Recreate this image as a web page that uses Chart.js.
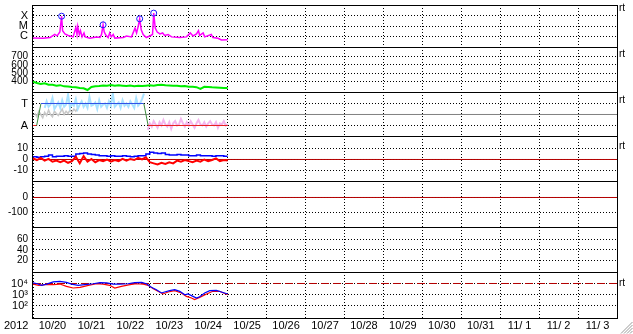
<!DOCTYPE html>
<html>
<head>
<meta charset="utf-8">
<script src="https://cdn.jsdelivr.net/npm/chart.js@4.4.0/dist/chart.umd.min.js"></script>
<style>
  body { margin: 0; background: #fff; }
  #wrap { position: relative; width: 633px; height: 334px; }
  #wrap canvas { position: absolute; left: 0; top: 0; }
</style>
</head>
<body>
<div id="wrap">
  <canvas id="p1" width="633" height="334"></canvas>
  <canvas id="p2" width="633" height="334"></canvas>
  <canvas id="p3" width="633" height="334"></canvas>
  <canvas id="p4" width="633" height="334"></canvas>
  <canvas id="p5" width="633" height="334"></canvas>
  <canvas id="p6" width="633" height="334"></canvas>
  <canvas id="p7" width="633" height="334"></canvas>
</div>
<script>
// x axis: days since 2012-10-20 00:00
const dayLabels = ['10/20', '10/21', '10/22', '10/23', '10/24', '10/25', '10/26', '10/27',
  '10/28', '10/29', '10/30', '10/31', '11/ 1', '11/ 2', '11/ 3'];
const yearLabel = '2012';
const sideLabel = 'rt';

// x-ray flux
const xrayDay = [0.00, 0.26, 0.44, 0.56, 0.62, 0.69, 0.735, 0.76, 0.82, 0.905,
  1.03, 1.10, 1.13, 1.15, 1.19, 1.22, 1.26, 1.31, 1.34, 1.46,
  1.63, 1.72, 1.76, 1.80, 1.83, 1.87, 1.93, 1.97, 2.01, 2.06,
  2.10, 2.32, 2.40, 2.53, 2.62, 2.66, 2.70, 2.74, 2.78, 2.83,
  2.91, 3.00, 3.07, 3.10, 3.14, 3.19, 3.26, 3.33, 3.38, 3.47,
  3.56, 3.77, 3.94, 4.04, 4.11, 4.20, 4.25, 4.28, 4.37, 4.41,
  4.58, 4.62, 4.75, 4.84, 5.00];
const xrayFlux = [6.6e-7, 6.3e-7, 7.6e-7, 1.5e-6, 1.1e-6, 2.6e-6, 9.0e-5, 3.5e-6, 1.7e-6, 1.2e-6,
  8.7e-7, 7.0e-6, 1.5e-6, 8.7e-6, 1.5e-6, 3.5e-6, 8.7e-7, 2.1e-6, 8.7e-7, 6.6e-7,
  8.7e-7, 7.6e-7, 1.5e-6, 1.3e-5, 2.6e-6, 1.3e-6, 7.6e-7, 2.1e-6, 8.7e-7, 1.5e-6,
  6.6e-7, 7.6e-7, 1.07e-6, 8.7e-7, 6.2e-6, 2.1e-6, 8.7e-6, 5.0e-5, 4.3e-6, 1.5e-6,
  7.6e-7, 1.07e-6, 1.5e-6, 1.8e-4, 6.2e-6, 2.6e-6, 1.7e-6, 2.1e-6, 1.2e-6, 1.5e-6,
  8.7e-7, 7.6e-7, 8.7e-7, 2.1e-6, 1.07e-6, 1.7e-6, 3.5e-6, 1.2e-6, 2.1e-6, 8.7e-7,
  1.5e-6, 7.6e-7, 6.3e-7, 4.3e-7, 4.6e-7];
const flareDay = [0.735, 1.80, 2.74, 3.10];
const flareFlux = [9.0e-5, 1.3e-5, 5.0e-5, 1.8e-4];
const xrayTicks = [1e-6, 1e-5, 1e-4];
const xrayTickLabels = ['C', 'M', 'X'];

// solar wind speed, every 0.1 day
const speedStep = 0.1;
const windSpeed = [397, 382, 370, 378, 362, 360, 350, 356, 342, 340,
  334, 330, 322, 318, 298, 334, 342, 346, 352, 350,
  358, 348, 354, 350, 346, 352, 344, 350, 346, 350,
  354, 348, 358, 362, 354, 352, 348, 350, 344, 346,
  338, 336, 332, 312, 336, 334, 330, 328, 326, 322, 322];
const speedTicks = [400, 500, 600, 700];

// sector: T = +1, A = -1
const sectorDay = [0, 0.094, 0.205, 2.846, 2.957, 5.0];
const sectorVal = [-1, -1, 1, 1, -1, -1];
const sectorTicks = [1, -1];
const sectorTickLabels = ['T', 'A'];
const phiStep = 0.05;
const phiTowardStart = 0.30;
const phiToward = [0.6, 1.2, 0.7, 0.9, 1.5, 0.5, 0.8, 1.1, 0.6, 1.3,
  0.7, 0.9, 1.8, 0.6, 1.0, 0.8, 1.4, 0.5, 0.9, 1.2,
  0.7, 1.0, 0.6, 1.6, 0.8, 0.9, 1.1, 0.5, 1.3, 0.7,
  0.9, 1.0, 0.6, 1.2, 0.8, 1.9, 0.7, 0.9, 1.1, 0.6,
  1.3, 0.8, 1.0, 0.7, 1.2, 0.9, 0.6, 1.5, 0.8, 1.0, 1.4, 1.9];
const phiMixedStart = 0.05;
const phiMixed = [0.1, -0.2, 0.3, 0.0, -0.3, 0.2, -0.1, 0.4, 0.0, -0.2,
  0.3, 0.1, -0.1, 0.2, 0.5, 0.0, 0.3, 0.1, 0.4, 0.2, 0.5, 0.3, 0.6];
const phiAwayStart = 2.95;
const phiAway = [-1.4, -0.8, -1.1, -0.6, -0.9, -1.2, -0.7, -1.0, -0.5, -0.9,
  -1.1, -0.7, -1.3, -0.8, -0.6, -1.0, -0.9, -0.4, -0.8, -1.1,
  -0.7, -1.0, -0.6, -0.9, -1.2, -0.8, -0.5, -0.9, -1.0, -0.7,
  -1.1, -0.8, -0.6, -0.9, -1.0, -0.7, -1.2, -0.8, -0.9, -0.6, -1.0, -0.9];

// IMF Bt / Bz, every 0.1 day
const imfStep = 0.1;
const bt = [2.5, 2.0, 2.5, 3.0, 4.0, 2.5, 3.0, 3.0, 3.5, 3.0,
  3.0, 5.0, 5.5, 6.0, 5.0, 4.5, 4.0, 3.5, 3.5, 3.0,
  3.5, 3.0, 3.0, 3.5, 3.0, 2.5, 3.0, 3.5, 3.5, 5.0,
  6.5, 6.0, 5.5, 6.0, 4.5, 4.0, 4.0, 4.5, 4.0, 4.0,
  3.5, 3.5, 4.0, 3.5, 3.5, 3.5, 3.0, 3.5, 3.5, 3.0, 3.0];
const bz = [1.0, -0.5, 1.5, -1.0, 0.5, -2.0, -1.0, -2.5, -1.0, -3.0,
  -1.5, 2.5, -3.5, 3.0, -2.0, 0.5, -2.5, -0.5, -1.5, 0.0,
  -2.0, -0.5, -1.5, 0.5, -1.0, 0.5, -0.5, 1.5, 0.0, 2.0,
  -2.5, -3.5, -4.5, -3.0, -4.0, -2.5, -3.5, -1.0, -2.0, -0.5,
  -1.5, -2.5, -1.0, -2.0, 0.0, -1.5, -0.5, 1.0, -1.5, -0.5, -1.0];
const imfTicks = [10, 0, -10];

// empty panels
const dstTicks = [0, -100];
const kpTicks = [60, 40, 20];

// electron flux
const elecBlueDay = [0, 0.11, 0.22, 0.35, 0.52, 0.69, 0.86, 0.99, 1.16, 1.33,
  1.55, 1.72, 1.89, 2.06, 2.23, 2.44, 2.61, 2.79, 2.91, 3.04,
  3.17, 3.30, 3.38, 3.51, 3.64, 3.77, 3.90, 3.98, 4.11, 4.20,
  4.28, 4.41, 4.54, 4.71, 4.84, 5.0];
const elecBlue = [11200, 9500, 6800, 8900, 13800, 15800, 12600, 8900, 6800, 7900,
  9500, 12000, 11200, 8900, 8900, 9500, 12000, 12600, 9500, 4500,
  2750, 1380, 1700, 2240, 2750, 1950, 950, 1120, 680, 480,
  630, 1380, 2240, 2400, 1700, 1120];
const elecRedDay = [0, 0.15, 0.31, 0.52, 0.69, 0.86, 1.03, 1.21, 1.42, 1.63,
  1.80, 1.97, 2.10, 2.27, 2.49, 2.66, 2.83, 2.96, 3.09, 3.21,
  3.34, 3.47, 3.64, 3.81, 3.94, 4.07, 4.15, 4.28, 4.46, 4.62, 4.79, 5.0];
const elecRed = [8900, 6800, 7900, 7900, 8900, 5500, 3900, 4500, 6800, 9500,
  8900, 6800, 3900, 5500, 7800, 9500, 8900, 6800, 3400, 1950,
  1120, 1700, 2240, 1380, 680, 480, 340, 550, 1120, 1950, 1950, 950];
const elecTicks = [1e4, 1e3, 1e2];
const elecTickLabels = ['10⁴', '10³', '10²'];
const elecThreshold = 1e4;

// full-width reference lines
const refDays = [0, 15];

Chart.defaults.font.family = "'Liberation Sans', Arial, sans-serif";
Chart.defaults.font.size = 10;
Chart.defaults.color = '#000';
Chart.defaults.animation = false;

const pts = (days, vals) => days.map((d, i) => ({ x: d, y: vals[i] }));
const steps = (start, step, vals) => vals.map((v, i) => ({ x: +(start + i * step).toFixed(3), y: v }));
const flat = v => pts(refDays, [v, v]);

function line(data, color, width, extra) {
  return Object.assign({ data, borderColor: color, borderWidth: width, pointRadius: 0, fill: false, tension: 0 }, extra || {});
}

function xAxis(withLabels) {
  const vals = [];
  for (let d = 0; d <= 15; d += withLabels ? 0.5 : 1) vals.push(d);
  return {
    type: 'linear', min: 0, max: 15, bounds: 'data',
    afterBuildTicks: ax => { ax.ticks = vals.map(v => ({ value: v })); },
    afterFit: ax => { ax.height = withLabels ? 16 : 0; ax.paddingLeft = 0; ax.paddingRight = 0; },
    ticks: {
      display: withLabels, padding: 1, maxRotation: 0, autoSkip: false, font: { size: 11 },
      callback: v => Number.isInteger(v) ? '' : dayLabels[Math.floor(v)]
    },
    grid: { drawTicks: false, color: c => (c.tick && Number.isInteger(c.tick.value)) ? '#000' : 'rgba(0,0,0,0)' },
    border: { display: false, dash: [1, 2] }
  };
}

function yAxis(o) {
  return {
    type: o.type || 'linear', min: o.min, max: o.max, bounds: 'data',
    afterBuildTicks: ax => { ax.ticks = o.ticks.map(v => ({ value: v })); },
    afterFit: ax => { ax.width = 33; ax.paddingTop = 0; ax.paddingBottom = 0; },
    ticks: {
      padding: 5, autoSkip: false, font: o.font,
      callback: (v, i) => o.labels ? o.labels[i] : String(o.ticks[i])
    },
    grid: { drawTicks: false, color: '#000' },
    border: { display: false, dash: [1, 2] }
  };
}

// black frame around each panel
const frame = {
  id: 'frame',
  afterDraw(chart) {
    const a = chart.chartArea, c = chart.ctx;
    c.save();
    c.strokeStyle = '#000';
    c.lineWidth = 1;
    c.strokeRect(a.left - 0.5, a.top + 0.5, a.right - a.left + 1, a.bottom - a.top);
    c.restore();
  }
};

// side labels, year, resize grip
const extras = {
  id: 'extras',
  afterDraw(chart) {
    const c = chart.ctx;
    c.save();
    c.fillStyle = '#000';
    c.textBaseline = 'middle';
    c.font = "11px 'Liberation Sans', Arial, sans-serif";
    c.fillText(yearLabel, 4, 326);
    c.font = "10px 'Liberation Sans', Arial, sans-serif";
    [8, 54, 100, 146, 283].forEach(y => c.fillText(sideLabel, 619, y));
    c.strokeStyle = '#999';
    c.lineWidth = 1;
    for (let k = 0; k < 4; k++) {
      c.beginPath();
      c.moveTo(621 + 3 * k, 333.5);
      c.lineTo(632.5, 322 + 3 * k);
      c.stroke();
    }
    c.restore();
  }
};

const plotBottom = 318;
const tops = [2, 47, 92, 136, 181, 227, 272];

function panel(n, y, datasets, last) {
  const top = tops[n];
  const bottom = n < 6 ? tops[n + 1] : plotBottom;
  return new Chart(document.getElementById('p' + (n + 1)), {
    type: 'line',
    data: { datasets },
    options: {
      responsive: false,
      devicePixelRatio: 1,
      layout: { padding: { top, bottom: last ? 0 : 334 - bottom, left: 0, right: 16 } },
      plugins: { legend: { display: false }, tooltip: { enabled: false } },
      scales: { x: xAxis(last), y: yAxis(y) }
    },
    plugins: last ? [frame, extras] : [frame]
  });
}

// 1: x-ray
panel(0, { type: 'logarithmic', min: Math.pow(10, -7.045), max: Math.pow(10, -2.955), ticks: xrayTicks, labels: xrayTickLabels, font: { size: 11 } }, [
  line(pts(flareDay, flareFlux), '#1a1aff', 1, { showLine: false, pointRadius: 3, pointBorderColor: '#1a1aff', pointBackgroundColor: 'rgba(0,0,0,0)', pointBorderWidth: 1 }),
  line(pts(xrayDay, xrayFlux), '#ff00ff', 1.5)
]);

// 2: speed
panel(1, { min: 274, max: 814, ticks: speedTicks, font: { family: "'Liberation Sans Narrow', 'Liberation Sans', sans-serif", size: 10 } }, [
  line(steps(0, speedStep, windSpeed), '#00ee00', 2)
]);

// 3: sector
panel(2, { min: -1.955, max: 2.045, ticks: sectorTicks, labels: sectorTickLabels, font: { size: 11 } }, [
  line(pts(sectorDay, sectorVal), '#3050e8', 1, {
    segment: { borderColor: s => s.p0.parsed.y !== s.p1.parsed.y ? '#3c8c3c' : (s.p0.parsed.y > 0 ? '#3050e8' : '#e82020') }
  }),
  line(steps(phiTowardStart, phiStep, phiToward), '#a8e2ff', 2),
  line(steps(phiMixedStart, phiStep, phiMixed), '#c8c8c8', 1.5),
  line(steps(phiAwayStart, phiStep, phiAway), '#f4b6ee', 2),
  line(flat(0), '#808080', 1)
]);

// 4: IMF
panel(3, { min: -19.55, max: 21.36, ticks: imfTicks }, [
  line(steps(0, imfStep, bz), '#ff0000', 2),
  line(steps(0, imfStep, bt), '#0000ff', 1.5, { stepped: true }),
  line(flat(0), '#b40000', 1)
]);

// 5
panel(4, { min: -196.7, max: 110, ticks: dstTicks }, [
  line(flat(0), '#b40000', 1)
]);

// 6
panel(5, { min: -1.9, max: 83.8, ticks: kpTicks }, []);

// 7: electrons
panel(6, { type: 'logarithmic', min: Math.pow(10, 0.864), max: Math.pow(10, 5.045), ticks: elecTicks, labels: elecTickLabels, font: { size: 11 } }, [
  line(pts(elecBlueDay, elecBlue), '#0000ff', 1.2),
  line(pts(elecRedDay, elecRed), '#ff0000', 1.2),
  line(flat(elecThreshold), '#b40000', 1, { borderDash: [8, 4] })
], true);
</script>
</body>
</html>
